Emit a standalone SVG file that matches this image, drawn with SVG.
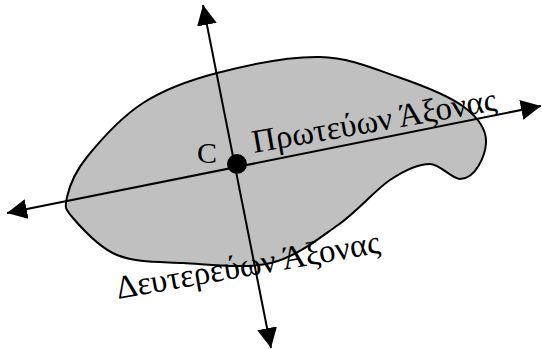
<svg xmlns="http://www.w3.org/2000/svg" width="542" height="349" viewBox="0 0 542 349">
<style>
.lbl{font-family:"Liberation Serif","Times New Roman",serif;font-size:33px;fill:#000}
.c{font-size:30px}
.axis{stroke:#000;stroke-width:2;fill:none}
</style>
<defs>
<marker id="arr" markerUnits="userSpaceOnUse" markerWidth="22" markerHeight="22" viewBox="0 0 22 22" refX="20" refY="10" orient="auto-start-reverse">
<path d="M0,0 L20,10 L0,20 Z" fill="#000"/>
</marker>
</defs>
<rect width="542" height="349" fill="#fff"/>
<g id="body">
<path d="M67,197 C69.3,186.8 74.3,172.7 87,157 C99.7,141.3 121.3,117 143,103 C164.7,89 187.5,80.7 217,73 C246.5,65.3 289.8,56.3 320,57 C350.2,57.7 374,68.7 398,77 C422,85.3 449.3,96 464,107 C478.7,118 486.7,131 486,143 C485.3,155 476,179 460,179 C452,179 440,164 430,164 C420,164 405.3,169.8 390,180 C374.7,190.2 357.8,211.2 338,225 C318.2,238.8 296.8,256.7 271,263 C245.2,269.3 208.7,264.3 183,263 C157.3,261.7 135.3,262.5 117,255 C98.7,247.5 81.3,227.7 73,218 C64.7,208.3 64.7,207.2 67,197 Z" fill="#c0c0c0" stroke="#000" stroke-width="2"/>
</g>
<g id="connectors">
<line class="axis" x1="7" y1="213" x2="541" y2="106" marker-start="url(#arr)" marker-end="url(#arr)"/>
<line class="axis" x1="203" y1="5" x2="271" y2="348" marker-start="url(#arr)" marker-end="url(#arr)"/>
</g>
<g id="center">
<circle cx="237" cy="164" r="10" fill="#000"/>
<text class="lbl c" x="197" y="163">C</text>
</g>
<g id="principal-label">
<text class="lbl" transform="translate(254,153) rotate(-10)">Πρωτεύων Άξονας</text>
</g>
<g id="secondary-label">
<text class="lbl" transform="translate(118,299) rotate(-10)">Δευτερεύων Άξονας</text>
</g>
</svg>
